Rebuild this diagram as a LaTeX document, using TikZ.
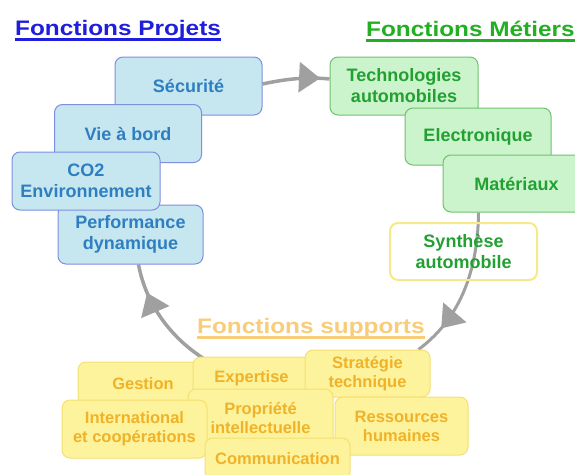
\documentclass[tikz,border=0pt]{standalone}
\usepackage{fontspec}
\setmainfont{Liberation Sans}
\newfontfamily\titlefont[FakeStretch=1.16]{Liberation Sans}
\usetikzlibrary{arrows.meta,decorations.markings,calc}
\pgfdeclarelayer{bglayer}
\pgfdeclarelayer{arclayer}
\pgfsetlayers{bglayer,arclayer,main}
\definecolor{bfill}{HTML}{C6E6F0}
\definecolor{bborder}{HTML}{7F8FE0}
\definecolor{btext}{HTML}{2F7FC0}
\definecolor{gfill}{HTML}{CCF4CC}
\definecolor{gborder}{HTML}{70C070}
\definecolor{gtext}{HTML}{22A032}
\definecolor{yfill}{HTML}{FDF39C}
\definecolor{yborder}{HTML}{F5E070}
\definecolor{ytext}{HTML}{F0B228}
\definecolor{sborder}{HTML}{F4EA8C}
\definecolor{tblue}{HTML}{1E1EDC}
\definecolor{tgreen}{HTML}{22B022}
\definecolor{tyellow}{HTML}{F9CC7A}
\definecolor{arcgray}{HTML}{A0A0A0}
\tikzset{
  box/.style={rectangle, rounded corners=8pt, minimum width=147pt, minimum height=58pt,
    inner sep=0pt, align=center, line width=1pt},
  bluebox/.style={box, draw=bborder, fill=bfill, text=btext,
    font=\fontsize{18}{21}\selectfont\bfseries},
  greenbox/.style={box, draw=gborder, fill=gfill, text=gtext,
    font=\fontsize{18}{21}\selectfont\bfseries},
  synthbox/.style={box, draw=sborder, line width=2pt, text=gtext,
    font=\fontsize{18}{21}\selectfont\bfseries},
  yellowbox/.style={box, draw=yborder, fill=yfill, text=ytext,
    font=\fontsize{16.5}{19}\selectfont\bfseries},
  titlenode/.style={inner sep=0pt, anchor=base west, font=\titlefont\fontsize{21}{24}\selectfont\bfseries},
  cycle arc/.style={draw=arcgray, line width=3.5pt,
    decoration={markings, mark=at position #1 with {\arrow{Triangle[length=21pt,width=30pt]}}},
    postaction={decorate}},
}
\begin{document}
\begin{tikzpicture}[x=1pt,y=-1pt]
\useasboundingbox (0,0) rectangle (575,474);
\clip (0,0) rectangle (575,474);
\begin{pgfonlayer}{bglayer}
\fill[white] (0,0) rectangle (575,474);
\end{pgfonlayer}
% blue
\node[bluebox] (secu) at (188.5,86) {Sécurité};
\node[bluebox] (vie) at (128,133.5) {Vie à bord};
\node[bluebox, minimum width=145pt, minimum height=59pt] (perf) at (130.5,234.5) {Performance\\dynamique};
\node[bluebox, minimum width=148pt] (co2) at (86,181) {CO2\\Environnement};
% green
\node[greenbox, minimum width=148pt] (techno) at (404,86) {Technologies\\automobiles};
\node[greenbox, minimum width=146pt, minimum height=57pt] (elec) at (478,136.5) {Electronique};
\node[greenbox, minimum height=57pt] (mat) at (516.5,183.5) {Matériaux};
\node[synthbox, minimum height=57pt] (synth) at (463.5,251.5) {Synthèse\\automobile};
% yellow
\node[yellowbox, minimum width=130pt, minimum height=43pt] (gest) at (143,383.5) {Gestion};
\node[yellowbox, minimum width=117pt, minimum height=43pt] (expert) at (251.5,378.5) {Expertise};
\node[yellowbox, minimum width=125pt, minimum height=47pt] (strat) at (367.5,373.5) {Stratégie\\technique};
\node[yellowbox, minimum width=145pt, minimum height=58pt] (prop) at (260.5,418) {Propriété\\intellectuelle};
\node[yellowbox, minimum width=145pt, minimum height=58pt] (intl) at (134.5,429) {International\\et coopérations};
\node[yellowbox, minimum width=133pt, minimum height=58pt] (ress) at (401.5,426) {Ressources\\humaines};
\node[yellowbox, minimum width=145pt, minimum height=42pt] (comm) at (277.5,459) {Communication};
% arcs
\begin{pgfonlayer}{arclayer}
\draw[cycle arc=0.86] ($(secu.east)+(0,-2)$) .. controls (290,78) and (310,77) .. ($(techno.west)+(0,-7)$);
\draw[cycle arc=0.8, line width=3pt] ($(mat.south)+(-38,0)$) .. controls (478,262) and (465,315) .. ($(strat.north east)+(-12,0)$);
\draw[cycle arc=0.76] (gest.north east) .. controls (172,340) and (146,305) .. ($(perf.south)+(8,0)$);
\end{pgfonlayer}
% titles
\node[titlenode, text=tblue] (tp) at (15,35) {Fonctions Projets};
\draw[tblue, line width=2.2pt] ($(tp.base west)+(0,4.5)$) -- ($(tp.base east)+(0,4.5)$);
\node[titlenode, text=tgreen] (tm) at (366,36) {Fonctions Métiers};
\draw[tgreen, line width=2.2pt] ($(tm.base west)+(0,4.5)$) -- ($(tm.base east)+(0,4.5)$);
\node[titlenode, text=tyellow] (ts) at (197,333) {Fonctions supports};
\draw[tyellow, line width=2.2pt] ($(ts.base west)+(0,4.5)$) -- ($(ts.base east)+(0,4.5)$);
\end{tikzpicture}
\end{document}
